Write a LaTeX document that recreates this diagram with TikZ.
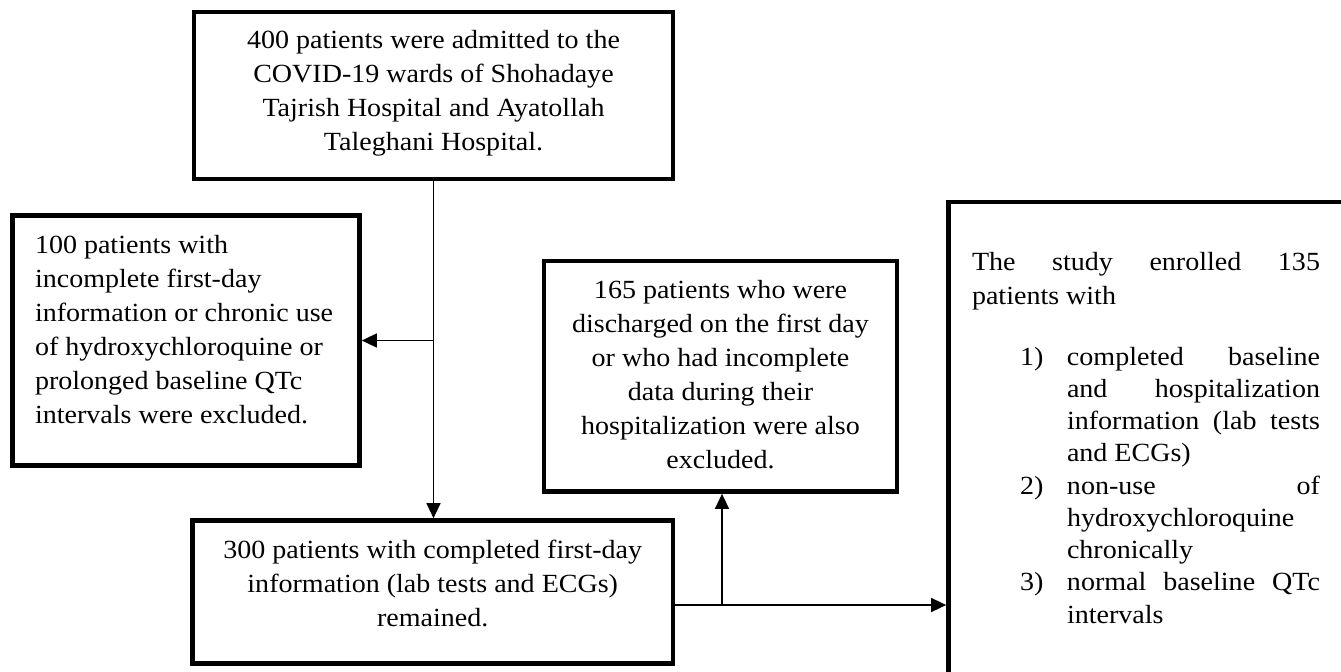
\documentclass[tikz,border=0pt]{standalone}
\usepackage{fontspec}
\setmainfont{Liberation Serif}[FakeStretch=1.07]
\usetikzlibrary{arrows.meta}
\newcommand{\bfs}{\fontsize{13.1pt}{17pt}\selectfont}
\newcommand{\jline}[1]{\makebox[126.5pt][s]{#1}}
\tikzset{
  box/.style={draw, line width=2.35pt, inner sep=0pt},
  plainline/.style={line width=0.75pt},
  conn/.style={line width=0.75pt, -{Triangle[length=7.5pt,width=7pt]}}
}
\begin{document}
\begin{tikzpicture}[x=0.5pt,y=-0.5pt]
\path[use as bounding box] (0,0) rectangle (1341,671);
\clip (0,0) rectangle (1341,671);

\node[box] (top) at (433.5,95.5) {\begin{minipage}[t][83.5pt][t]{239.5pt}\bfs\vspace*{6.1pt}\centering\strut 400 patients were admitted to the\\COVID-19 wards of Shohadaye\\Tajrish Hospital and Ayatollah\\Taleghani Hospital.\par\end{minipage}};

\node[box] (left) at (186,340.5) {\begin{minipage}[t][125pt][t]{173.5pt}\bfs\vspace*{6.85pt}\raggedright\leftskip=11.25pt\strut 100 patients with\\incomplete first-day\\information or chronic use\\of hydroxychloroquine or\\prolonged baseline QTc\\intervals were excluded.\par\end{minipage}};

\node[box] (middle) at (720.5,376.25) {\begin{minipage}[t][115.25pt][t]{176.5pt}\bfs\vspace*{6.6pt}\centering\strut 165 patients who were\\discharged on the first day\\or who had incomplete\\data during their\\hospitalization were also\\excluded.\par\end{minipage}};

\node[box] (bottom) at (432.75,592) {\begin{minipage}[t][71.5pt][t]{240.25pt}\bfs\vspace*{6.85pt}\centering\strut 300 patients with completed first-day\\information (lab tests and ECGs)\\remained.\par\end{minipage}};

\node[box] (right) at (1164.25,451) {\begin{minipage}[t][249pt][t]{215.75pt}\vspace*{22.1pt}{\bfs\hspace*{11.75pt}\strut\makebox[174pt][s]{The study enrolled 135}\\\hspace*{11.75pt}patients with\par}\vspace{14.375pt}{\fontsize{13.1pt}{16.125pt}\selectfont\hspace*{35.75pt}\makebox[23.5pt][l]{1)}\jline{completed baseline}\\\hspace*{59.25pt}\jline{and hospitalization}\\\hspace*{59.25pt}\jline{information (lab tests}\\\hspace*{59.25pt}and ECGs)\\\hspace*{35.75pt}\makebox[23.5pt][l]{2)}\jline{non-use of}\\\hspace*{59.25pt}hydroxychloroquine\\\hspace*{59.25pt}chronically\\\hspace*{35.75pt}\makebox[23.5pt][l]{3)}\jline{normal baseline QTc}\\\hspace*{59.25pt}intervals\par}\end{minipage}};

\coordinate (j2) at (722,605);
\draw[conn] (top.south) -- (top.south |- bottom.north);
\draw[conn] (top.south |- left.east) -- (left.east);
\draw[plainline] (j2 -| bottom.east) -- (j2);
\draw[conn] (j2) -- (j2 -| right.west);
\draw[conn] (j2) -- (j2 |- middle.south);
\end{tikzpicture}
\end{document}
